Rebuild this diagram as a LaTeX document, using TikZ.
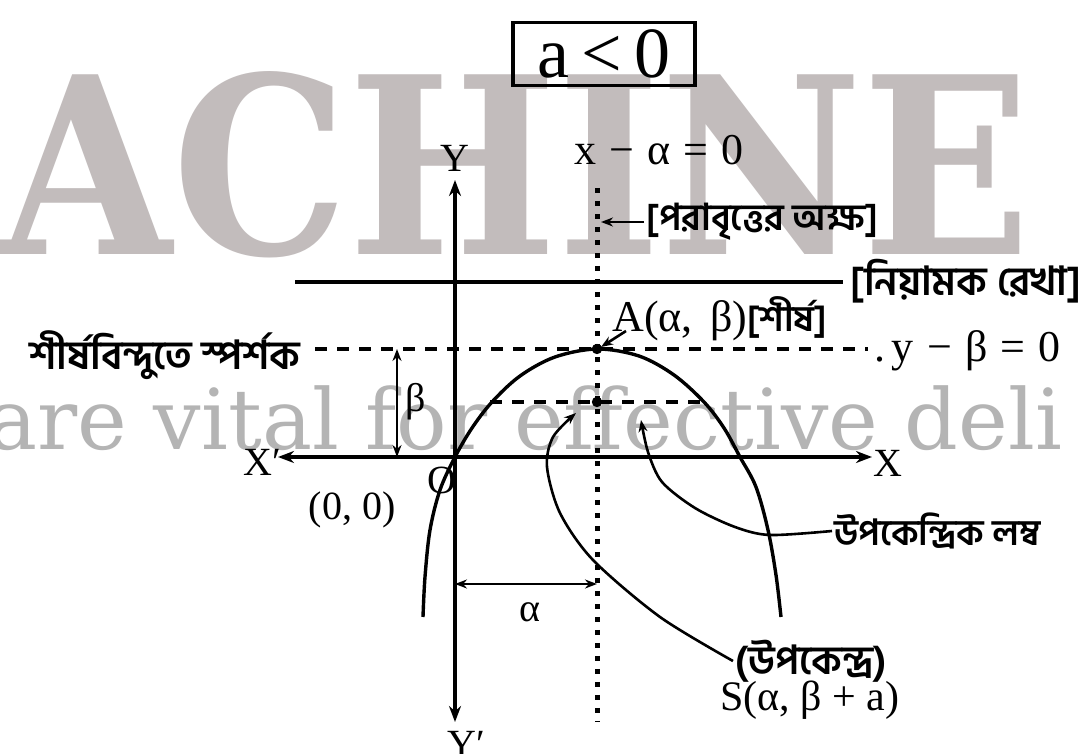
\documentclass[tikz,border=0pt]{standalone}
\usepackage{fontspec}
\usepackage{graphicx}
\setmainfont{Liberation Serif}
\newfontfamily\bn[Script=Bengali]{Hind Siliguri}
\newfontfamily\wmfont{DejaVu Serif}
\usetikzlibrary{arrows.meta}
\definecolor{wmA}{RGB}{194,188,188}
\definecolor{wmB}{RGB}{180,180,180}
\newcommand{\bnsize}[1]{\bn\bfseries\fontsize{#1}{#1}\selectfont}
\newcommand{\gap}{\hspace{0.3em}}
\tikzset{
  lbl/.style={inner sep=1pt, font=\fontsize{20}{22}\selectfont},
  bnl/.style={inner sep=1pt},
  axisarrow/.style={line width=1.8pt, {Stealth[length=8pt,width=6pt]}-{Stealth[length=8pt,width=6pt]}},
  dimarrow/.style={line width=1.4pt, {Stealth[length=6pt,width=4.5pt]}-{Stealth[length=6pt,width=4.5pt]}},
  pointer/.style={line width=1.3pt, -{Stealth[length=6pt,width=4.5pt]}},
  dotline/.style={line width=2.5pt, dash pattern=on 2.5pt off 4pt},
  dashline/.style={line width=2.2pt, dash pattern=on 6pt off 5pt},
  solidline/.style={line width=2pt},
  curveline/.style={line width=1.7pt},
}
\begin{document}
\begin{tikzpicture}[x=0.5pt,y=-0.5pt]
\useasboundingbox (0,0) rectangle (1089,754);
\fill[white] (0,0) rectangle (1089,754);
% watermarks
\node[anchor=south west, inner sep=0, text=wmA] (wm1) at (0,258) {\resizebox{515pt}{91.5pt}{\wmfont\bfseries ACHINE}};
\node[anchor=base west, inner sep=0, text=wmB, font=\wmfont\fontsize{42}{44}\selectfont] (wm2) at (-13,450) {are vital for effective deli};
% coordinates
\coordinate (O) at (455,457);
\coordinate (Yt) at (455,180);
\coordinate (Yb) at (455,722);
\coordinate (Xl) at (278,457);
\coordinate (Xr) at (872,457);
\coordinate (A) at (597,349);
\coordinate (S) at (597,402);
\coordinate (Pt) at (597,188);
\coordinate (Pb) at (597,722);
\coordinate (Dl) at (295,282);
\coordinate (Dr) at (843,282);
\coordinate (Tl) at (315,349);
\coordinate (Tr) at (868,349);
\coordinate (Ll) at (490,402);
\coordinate (Lr) at (702,402);
\coordinate (Bt) at (397,349);
\coordinate (Bb) at (397,457);
\coordinate (Al) at (455,584);
\coordinate (Ar) at (597,584);
\coordinate (axhit) at (601,222);
\coordinate (atip) at (601,347);
\coordinate (Stip1) at (576,413);
\coordinate (Stip2) at (641,420);
% axes
\draw[axisarrow] (Yb) -- (Yt);
\draw[axisarrow] (Xl) -- (Xr);
% axis of parabola
\draw[dotline] (Pt) -- (Pb);
% directrix
\draw[solidline] (Dl) -- (Dr);
% tangent at vertex and latus rectum
\draw[dashline] (Tl) -- (Tr);
\draw[dashline] (Ll) -- (Lr);
% parabola
\draw[curveline] plot[smooth, tension=0.55] coordinates {(423,617) (425,577) (430,530) (440,490) (455,457) (472,428) (492,402) (520,376) (555,357) (597,349) (639,356) (674,375) (704,402) (724,428) (740,457) (756,487) (768,530) (776,575) (781,617)};
\fill (A) circle (2.6pt);
\fill (S) circle (2.6pt);
% dimensions
\draw[dimarrow] (Bt) -- (Bb);
\draw[dimarrow] (Al) -- (Ar);
% condition box
\node[draw, line width=1.8pt, minimum width=91pt, minimum height=31.5pt, inner sep=2pt, font=\fontsize{36}{38}\selectfont] (cond) at (604,54) {a\,<\,0};
% labels
\node[lbl] (ylab) at (455,158) {Y};
\node[lbl] (yplab) at (466,744) {Y′};
\node[lbl] (xlab) at (888,463) {X};
\node[lbl] (xplab) at (262,462) {X′};
\node[lbl] (olab) at (442,480) {O};
\node[lbl] (oolab) at (352,510) {(0, 0)};
\node[lbl, font=\fontsize{22}{24}\selectfont] (axeq) at (659,150) {x\gap−\gap α\gap=\gap 0};
\node[bnl, anchor=west, font=\bnsize{18.5}] (axlab) at (644,222) {[পরাবৃত্তের অক্ষ]};
\draw[pointer] (axlab.west) -- (axhit);
\node[bnl, anchor=west, font=\bnsize{20}] (dirlab) at (848,281) {[নিয়ামক রেখা]};
\node[lbl, anchor=south west, font=\fontsize{22}{24}\selectfont] (alab) at (610,343) {A(α,\hspace{0.4em}β)\bnsize{18}[শীর্ষ]};
\coordinate (astart) at (626,331);
\draw[pointer] (astart) -- (atip);
\node[bnl, anchor=east, font=\bnsize{20}] (tanlab) at (303,355) {শীর্ষবিন্দুতে স্পর্শক};
\node[lbl, anchor=west, font=\fontsize{22}{24}\selectfont] (tyeq) at (872,351) {.\hspace{0.15em}y\gap−\gap β\gap=\gap 0};
\node[lbl] (blab) at (416,402) {β};
\node[lbl] (alphalab) at (530,612) {α};
\node[bnl, anchor=west, font=\bnsize{18}] (lrlab) at (832,531) {উপকেন্দ্রিক লম্ব};
\node[bnl, anchor=west, font=\bnsize{20}] (foclab) at (733,661) {(উপকেন্দ্র)};
\node[lbl, anchor=west, font=\fontsize{21}{23}\selectfont] (slab) at (718,700) {S(α, β + a)};
% pointers
\draw[pointer] plot[smooth] coordinates {(foclab.west) (660,617) (593,560) (560,513) (547,467) (553,437) (Stip1)};
\draw[pointer] plot[smooth] coordinates {(lrlab.west) (770,535) (735,527) (695,508) (662,482) (648,452) (Stip2)};
\end{tikzpicture}
\end{document}
